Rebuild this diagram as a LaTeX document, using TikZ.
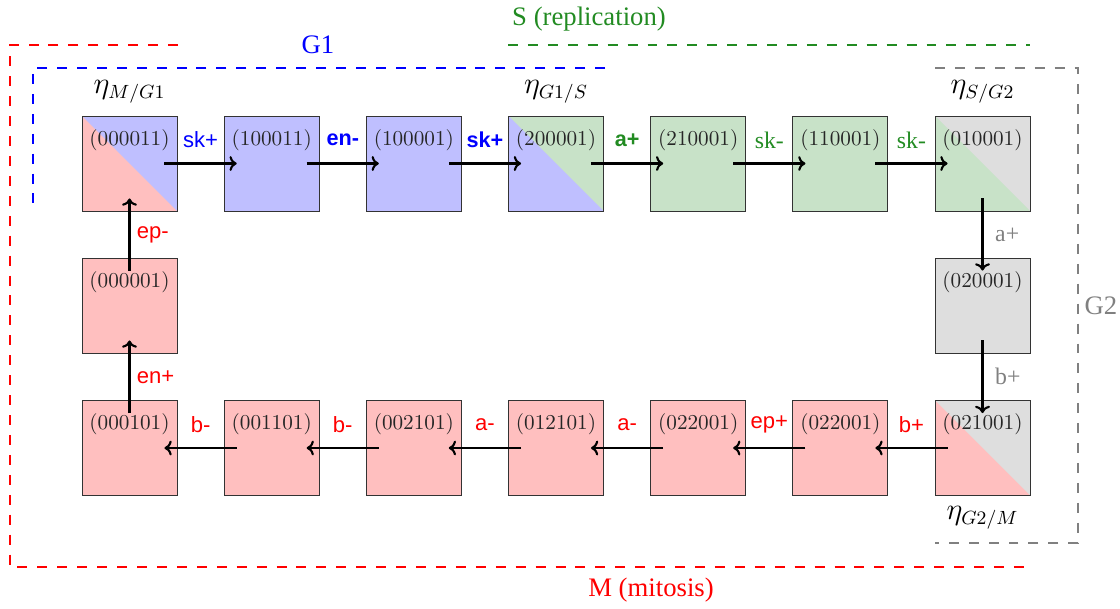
\documentclass[tikz,border=0pt]{standalone}
\usepackage{fontspec}
\newfontfamily\serifT{Liberation Serif}
\newfontfamily\sansH{Liberation Sans}
\usetikzlibrary{arrows.meta}
\definecolor{fgreen}{RGB}{34,139,34}
\definecolor{fred}{RGB}{255,191,191}
\definecolor{fblue}{RGB}{191,191,255}
\definecolor{fgreenl}{RGB}{200,226,200}
\definecolor{fgray}{RGB}{222,222,222}
\begin{document}
\begin{tikzpicture}[x=0.4717pt,y=-0.4717pt,
  state/.style={draw=black!80, line width=0.45pt, minimum size=44.8pt, inner sep=0pt, outer sep=0pt},
  tx/.style={label={[anchor=center,yshift=-11.2pt,text=black!85,inner sep=0pt]north:#1}},
  split/.style 2 args={fill=#1, path picture={\fill[#2] (path picture bounding box.north west) -- (path picture bounding box.south west) -- (path picture bounding box.south east) -- cycle;}},
  arr/.style={-{To[length=3.4pt,width=7pt]}, line width=1pt},
  hl/.style={midway, yshift=11.1pt, inner sep=0pt},
  vll/.style={midway, anchor=west, xshift=3pt, inner sep=0pt},
  vlr/.style={midway, anchor=west, xshift=5.5pt, inner sep=0pt},
  sl/.style={font=\sansH\fontsize{10.4}{12}\selectfont},
  slb/.style={font=\sansH\bfseries\fontsize{10.2}{12}\selectfont},
  tl/.style={font=\serifT\fontsize{11.2}{13}\selectfont},
  rl/.style={font=\serifT\fontsize{12.6}{15}\selectfont},
  eta/.style={font=\fontsize{13.5}{16}\selectfont},
  phase/.style={dash pattern=on 4.7pt off 4.7pt, line width=1.2pt}
]
\useasboundingbox (0,0) rectangle (1120,608);

% phase outlines
\draw[phase, red] (178,45) -- (10,45) -- (10,567) -- (1030,567);
\draw[phase, blue] (605,68) -- (33,68) -- (33,212);
\draw[phase, fgreen] (508,45) -- (1030,45);
\draw[phase, gray] (935,68) -- (1078,68) -- (1078,543) -- (935,543);

\node[rl, text=blue] (g1) at (318,45) {G1};
\node[rl, text=fgreen] (sph) at (589,19) {S (replication)};
\node[rl, text=gray] (g2) at (1101,306) {G2};
\node[rl, text=red] (mph) at (651,590) {M (mitosis)};

% states
\node[state, split={fblue}{fred}, tx={(000011)}] (n1) at (129.5,163.5) {};
\node[state, fill=fblue, tx={(100011)}] (n2) at (271.7,163.5) {};
\node[state, fill=fblue, tx={(100001)}] (n3) at (413.8,163.5) {};
\node[state, split={fgreenl}{fblue}, tx={(200001)}] (n4) at (556,163.5) {};
\node[state, fill=fgreenl, tx={(210001)}] (n5) at (698.2,163.5) {};
\node[state, fill=fgreenl, tx={(110001)}] (n6) at (840.4,163.5) {};
\node[state, split={fgray}{fgreenl}, tx={(010001)}] (n7) at (982.5,163.5) {};
\node[state, fill=fgray, tx={(020001)}] (m7) at (982.5,305.5) {};
\node[state, fill=fred, tx={(000001)}] (m1) at (129.5,305.5) {};
\node[state, split={fgray}{fred}, tx={(021001)}] (b7) at (982.5,448) {};
\node[state, fill=fred, tx={(022001)}] (b6) at (840.4,448) {};
\node[state, fill=fred, tx={(022001)}] (b5) at (698.2,448) {};
\node[state, fill=fred, tx={(012101)}] (b4) at (556,448) {};
\node[state, fill=fred, tx={(002101)}] (b3) at (413.8,448) {};
\node[state, fill=fred, tx={(001101)}] (b2) at (271.7,448) {};
\node[state, fill=fred, tx={(000101)}] (b1) at (129.5,448) {};

% eta labels
\node[eta] (e1) at (129.5,92) {$\eta_{M/G1}$};
\node[eta] (e4) at (556,92) {$\eta_{G1/S}$};
\node[eta] (e7) at (982.5,92) {$\eta_{S/G2}$};
\node[eta] (e8) at (982.5,518) {$\eta_{G2/M}$};

% transitions
\draw[arr] ([xshift=16.5pt]n1.center) -- ([xshift=-16.5pt]n2.center) node[hl, sl, text=blue] {sk+};
\draw[arr] ([xshift=16.5pt]n2.center) -- ([xshift=-16.5pt]n3.center) node[hl, slb, text=blue] {en-};
\draw[arr] ([xshift=16.5pt]n3.center) -- ([xshift=-16.5pt]n4.center) node[hl, slb, text=blue] {sk+};
\draw[arr] ([xshift=16.5pt]n4.center) -- ([xshift=-16.5pt]n5.center) node[hl, slb, text=fgreen] {a+};
\draw[arr] ([xshift=16.5pt]n5.center) -- ([xshift=-16.5pt]n6.center) node[hl, tl, text=fgreen] {sk-};
\draw[arr] ([xshift=16.5pt]n6.center) -- ([xshift=-16.5pt]n7.center) node[hl, tl, text=fgreen] {sk-};
\draw[arr] ([yshift=-16.5pt]n7.center) -- ([yshift=16.5pt]m7.center) node[vlr, tl, text=gray] {a+};
\draw[arr] ([yshift=-16.5pt]m7.center) -- ([yshift=16.5pt]b7.center) node[vlr, tl, text=gray] {b+};
\draw[arr] ([xshift=-16.5pt]b7.center) -- ([xshift=16.5pt]b6.center) node[hl, sl, text=red] {b+};
\draw[arr] ([xshift=-16.5pt]b6.center) -- ([xshift=16.5pt]b5.center) node[hl, sl, text=red] {ep+};
\draw[arr] ([xshift=-16.5pt]b5.center) -- ([xshift=16.5pt]b4.center) node[hl, sl, text=red] {a-};
\draw[arr] ([xshift=-16.5pt]b4.center) -- ([xshift=16.5pt]b3.center) node[hl, sl, text=red] {a-};
\draw[arr] ([xshift=-16.5pt]b3.center) -- ([xshift=16.5pt]b2.center) node[hl, sl, text=red] {b-};
\draw[arr] ([xshift=-16.5pt]b2.center) -- ([xshift=16.5pt]b1.center) node[hl, sl, text=red] {b-};
\draw[arr] ([yshift=16.5pt]b1.center) -- ([yshift=-16.5pt]m1.center) node[vll, sl, text=red] {en+};
\draw[arr] ([yshift=16.5pt]m1.center) -- ([yshift=-16.5pt]n1.center) node[vll, sl, text=red] {ep-};
\end{tikzpicture}
\end{document}
